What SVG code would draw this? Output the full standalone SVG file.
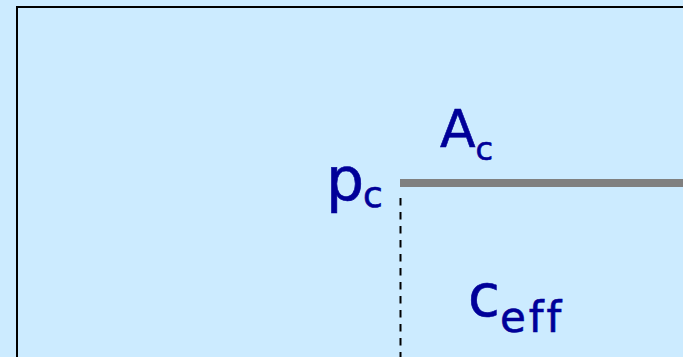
<svg xmlns="http://www.w3.org/2000/svg" width="683" height="357" viewBox="0 0 683 357">
<style>
.t{font-family:"DejaVu Sans","Liberation Sans",sans-serif;fill:#000099;stroke:#000099;stroke-width:0.6;font-variant-ligatures:none;font-feature-settings:"liga" 0}
</style>
<rect x="0" y="0" width="683" height="357" fill="#CCEBFF"/>
<g id="frame"><path d="M17 357 V7 H683" fill="none" stroke="#000" stroke-width="2"/></g>
<g id="connectors">
<line x1="400" y1="183" x2="683" y2="183" stroke="#808080" stroke-width="8"/>
<line x1="400.5" y1="198" x2="400.5" y2="357" stroke="#000" stroke-width="2" stroke-dasharray="7.5 6.5"/>
</g>
<g id="label-Ac"><text class="t" x="440" y="147" font-size="52">A<tspan font-size="32" dy="13" dx="0">c</tspan></text></g>
<g id="label-pc"><text class="t" x="326" y="200" font-size="60">p<tspan font-size="36" dy="7" dx="-1">c</tspan></text></g>
<g id="label-ceff"><text class="t" x="468" y="316" font-size="58">c<tspan font-size="42" dy="16" dx="0" letter-spacing="3">eff</tspan></text></g>
</svg>
